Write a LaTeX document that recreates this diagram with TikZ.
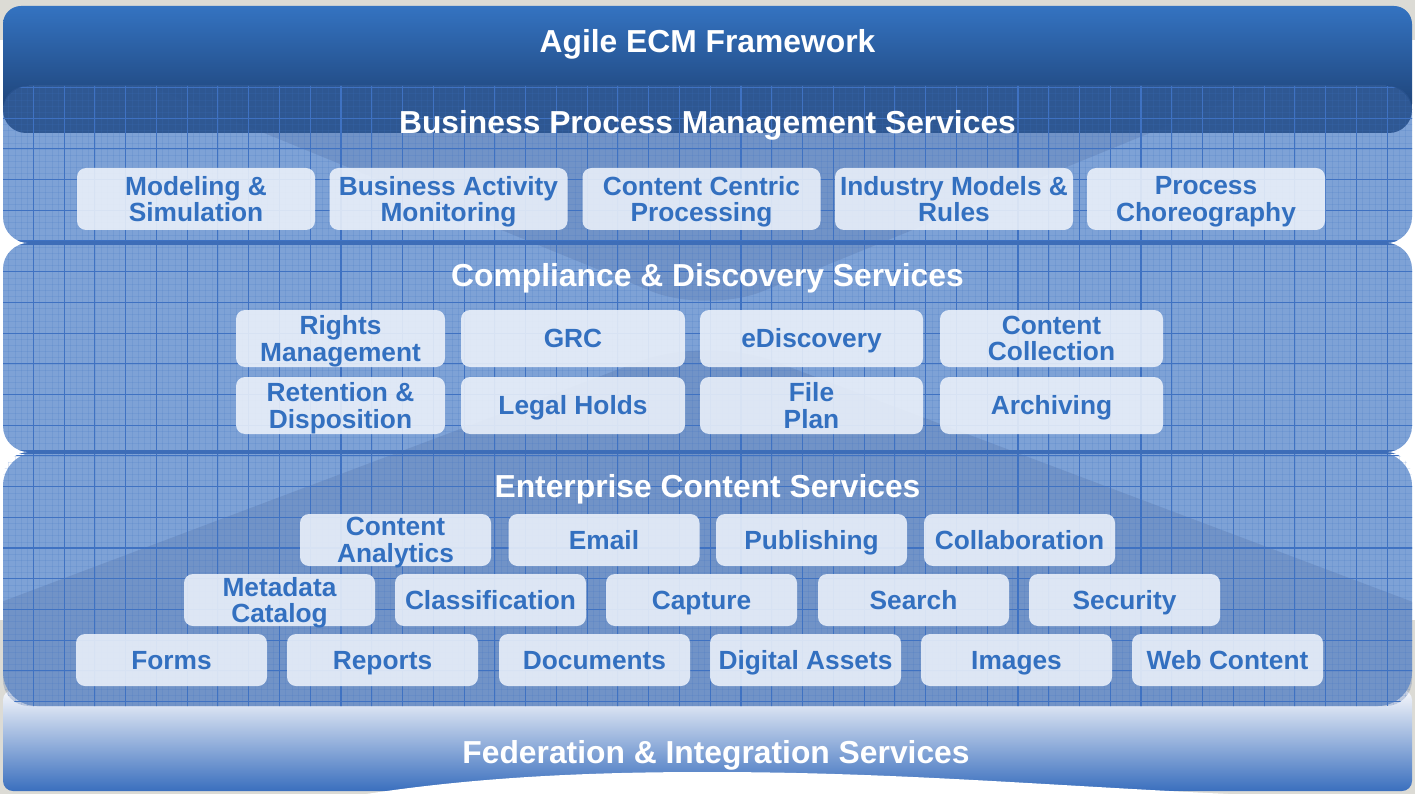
\documentclass[tikz,border=0pt]{standalone}
\usepackage{fontspec}
\setmainfont{Liberation Sans}
\definecolor{bggray}{HTML}{DCDBD5}
\definecolor{topA}{HTML}{3473C1}
\definecolor{topB}{HTML}{1C3E70}
\definecolor{panelc}{HTML}{7EA2D6}
\definecolor{gridc}{HTML}{3F72C2}
\definecolor{darkband}{HTML}{29528E}
\definecolor{rimc}{HTML}{3D6DB8}
\definecolor{boxc}{HTML}{EEF3FB}
\definecolor{itemblue}{HTML}{3370C0}
\definecolor{fedtop}{HTML}{F7F8FC}
\definecolor{fedmid}{HTML}{C6CEE6}
\definecolor{fedbot}{HTML}{3A6FBE}
\definecolor{beamc}{HTML}{4D6A9E}
\tikzset{
  itm/.style={rounded corners=9pt, fill=boxc, fill opacity=0.87, text opacity=1,
    text=itemblue, font=\fontsize{26.3}{26.5}\selectfont\bfseries, align=center,
    inner sep=0pt, text depth=0pt},
  one/.style={text height=18.8pt},
  bpm/.style={itm, minimum width=238pt, minimum height=62pt},
  cdn/.style={itm, minimum width=223pt, minimum height=57pt},
  ecs/.style={itm, minimum width=191pt, minimum height=52pt},
  ttl/.style={text=white, font=\fontsize{31.8}{34}\selectfont\bfseries, anchor=base, inner sep=0pt},
  gmaj/.style={draw=gridc, line width=1.1pt},
  gmin/.style={draw=gridc, line width=0.45pt, opacity=0.16},
  rim/.style={draw=rimc, line width=4.5pt}
}
\begin{document}
\begin{tikzpicture}[x=1pt,y=-1pt]
\useasboundingbox (0,0) rectangle (1415,794);
% background
\fill[white] (0,0) rectangle (1415,794);
\fill[bggray] (0,0) rectangle (1415,40);
\fill[bggray] (0,620) rectangle (1415,794);
% top bar
\shade[top color=topA, bottom color=topB, rounded corners=18pt] (3,6) rectangle (1412,122);
% federation
\shade[top color=fedtop, middle color=fedmid, bottom color=fedbot, rounded corners=10pt] (3,690) rectangle (1412,791);
\fill[white] (360,795) .. controls (480,776) and (600,772) .. (707,772)
   .. controls (900,772) and (1050,786) .. (1250,795) -- cycle;
% panels
\fill[panelc, rounded corners=26pt] (3,86) rectangle (1412,243);
\fill[panelc, rounded corners=26pt] (3,243) rectangle (1412,452);
\fill[panelc, rounded corners=34pt] (3,452) rectangle (1412,706);
% funnel (top) and dome (bottom)
\begin{scope}
  \clip[rounded corners=26pt] (3,86) rectangle (1412,243) (3,243) rectangle (1412,452);
  \fill[beamc, opacity=0.26, rounded corners=60pt] (110,70) -- (1304,70) -- (707,314) -- cycle;
\end{scope}
\begin{scope}
  \clip[rounded corners=26pt] (3,243) rectangle (1412,452) (3,452) rectangle (1412,706);
  \fill[beamc, opacity=0.26, rounded corners=70pt] (707,336) -- (1726,720) -- (-312,720) -- cycle;
\end{scope}
% dark band on top of BPM panel
\fill[darkband, opacity=0.92, rounded corners=23pt] (3,86) rectangle (1412,133);
% grid
\begin{scope}
  \clip[rounded corners=26pt] (3,86) rectangle (1412,243) (3,243) rectangle (1412,452) (3,452) rectangle (1412,706);
  \foreach \k in {-6,...,230} \path[gmin] ({33.3+6.154*\k},80) -- ({33.3+6.154*\k},710);
  \foreach \k in {-32,...,72} \path[gmin] (0,{271.7+6.14*\k}) -- (1415,{271.7+6.14*\k});
  \foreach \k in {-1,...,45} \path[gmaj] ({33.3+30.77*\k},80) -- ({33.3+30.77*\k},710);
  \foreach \k in {-7,...,15} \path[gmaj] (0,{271.7+30.7*\k}) -- (1415,{271.7+30.7*\k});
  \path[rim] (0,243) -- (1415,243);
  \path[rim] (0,452) -- (1415,452);
\end{scope}
% titles
\node[ttl] (agile) at (707.5,53) {Agile ECM Framework};
\node[ttl] (bpmt) at (707.5,134) {Business Process Management Services};
\node[ttl] (cdt) at (707.5,286) {Compliance \& Discovery Services};
\node[ttl] (ecst) at (707.5,497) {Enterprise Content Services};
\node[ttl] (fedt) at (716,763) {Federation \& Integration Services};
% BPM boxes
\node[bpm] (b1) at (196,199) {Modeling \&\\Simulation};
\node[bpm] (b2) at (448.5,199) {Business Activity\\Monitoring};
\node[bpm] (b3) at (701.5,199) {Content Centric\\Processing};
\node[bpm] (b4) at (954,199) {Industry Models \&\\Rules};
\node[bpm] (b5) at (1206,199) {Process\\Choreography};
% Compliance boxes
\node[cdn, minimum width=209pt] (c1) at (340.5,338.5) {Rights\\Management};
\node[cdn, one, minimum width=224pt] (c2) at (573,338.5) {GRC};
\node[cdn, one] (c3) at (811.5,338.5) {eDiscovery};
\node[cdn] (c4) at (1051.5,338.5) {Content\\Collection};
\node[cdn, minimum width=209pt] (c5) at (340.5,405.5) {Retention \&\\Disposition};
\node[cdn, one, minimum width=224pt] (c6) at (573,405.5) {Legal Holds};
\node[cdn] (c7) at (811.5,405.5) {File\\Plan};
\node[cdn, one] (c8) at (1051.5,405.5) {Archiving};
% ECS boxes
\node[ecs] (e1) at (395.5,540) {Content\\Analytics};
\node[ecs, one] (e2) at (604,540) {Email};
\node[ecs, one] (e3) at (811.5,540) {Publishing};
\node[ecs, one] (e4) at (1019.5,540) {Collaboration};
\node[ecs] (e5) at (279.5,600) {Metadata\\Catalog};
\node[ecs, one] (e6) at (490.5,600) {Classification};
\node[ecs, one] (e7) at (701.5,600) {Capture};
\node[ecs, one] (e8) at (913.5,600) {Search};
\node[ecs, one] (e9) at (1124.5,600) {Security};
\node[ecs, one] (f1) at (171.5,660) {Forms};
\node[ecs, one] (f2) at (382.5,660) {Reports};
\node[ecs, one] (f3) at (594.5,660) {Documents};
\node[ecs, one] (f4) at (805.5,660) {Digital Assets};
\node[ecs, one] (f5) at (1016.5,660) {Images};
\node[ecs, one] (f6) at (1227.5,660) {Web Content};
\end{tikzpicture}
\end{document}
